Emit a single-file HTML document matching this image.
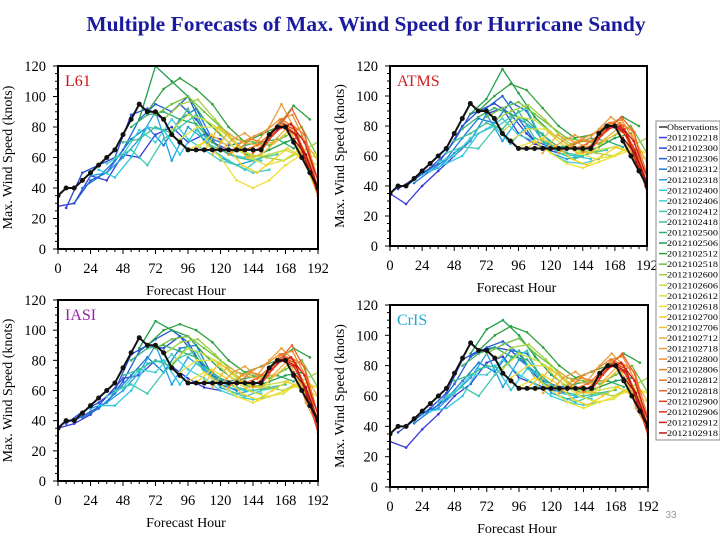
<!DOCTYPE html>
<html><head><meta charset="utf-8"><style>
body{margin:0;background:#fff;width:720px;height:540px;overflow:hidden}
svg{display:block;font-family:"Liberation Serif",serif}
</style></head><body>
<svg id="c" width="720" height="540">
<text x="366" y="31" text-anchor="middle" font-size="21.5" font-weight="bold" fill="#1a1aa0">Multiple Forecasts of Max. Wind Speed for Hurricane Sandy</text>
<text x="671" y="518" text-anchor="middle" font-size="10" fill="#999" font-family="Liberation Sans, sans-serif">33</text>
</svg>
<script>
const obsHours=[0,6,12,18,24,30,36,42,48,54,60,66,72,78,84,90,96,102,108,114,120,126,132,138,144,150,156,162,168,174,180,186,192];
const obsValues=[35,40,40,45,50,55,60,65,75,85,95,90,90,85,75,70,65,65,65,65,65,65,65,65,65,65,75,80,80,70,60,50,40];
const xTicks=[0,24,48,72,96,120,144,168,192];
const yTicks=[0,20,40,60,80,100,120];
const legendLabels=['2012102218','2012102300','2012102306','2012102312','2012102318','2012102400','2012102406','2012102412','2012102418','2012102500','2012102506','2012102512','2012102518','2012102600','2012102606','2012102612','2012102618','2012102700','2012102706','2012102712','2012102718','2012102800','2012102806','2012102812','2012102818','2012102900','2012102906','2012102912','2012102918'];
const seriesColors=['#3a3adc','#2a4ad0','#2060d0','#1a7ad8','#20a0e0','#30c8e0','#40d0d0','#40c8b0','#40c090','#30b070','#20a050','#30a040','#70c040','#a0d040','#c8e040','#e0e040','#f0e030','#f8d020','#f0c030','#e8b040','#e8a040','#f09030','#f08020','#f07020','#f06030','#e84020','#e03020','#d02020','#c01818','#a01010'];
// forecast values spread evenly from start hour 6*i to min(6*i+120,192)
const l61Values=[
[28,30,48,45,62,60,75,80,70,75,72],[27,50,55,60,88,92,85,95,85,70,65],[30,45,50,65,85,95,90,100,78,65,60],[40,47,58,72,80,68,85,92,72,68,70],
[48,50,60,72,90,58,80,72,60,55,58],[52,47,60,80,78,62,78,70,62,60,58],[56,62,78,70,85,72,65,58,55,50,52],[60,65,55,72,80,88,65,58,52,60,62],
[70,72,80,76,92,70,65,60,58,62,65],[80,88,90,85,82,70,62,68,70,72,66],[85,120,110,100,85,75,65,60,65,70,74],[90,105,112,105,95,80,70,75,80,94,85],
[88,95,100,90,80,72,70,68,74,80,60],[85,95,98,85,72,62,60,58,64,70],[78,88,85,78,68,60,62,65,60,55],[72,80,80,68,60,55,58,66,62],
[65,70,60,45,40,45,55,62,60],[65,75,68,55,50,58,66,60,35],[64,80,72,60,62,70,78,60,40],[62,76,70,68,70,80,72,58],
[64,72,76,70,80,95,80,55,38],[62,70,74,78,85,88,70,35],[64,72,70,80,82,75,45],[65,68,75,85,80,62,40],
[63,70,80,92,75,38],[64,75,82,78,58,35],[72,80,76,62,38],[78,82,70,45],[80,75,55,38],[72,62,40]];
const atmsValues=[
[35,28,40,50,60,70,88,92,75,68,65],[38,45,52,62,80,90,95,88,75,65,62],[40,48,55,70,88,92,100,85,70,66,62],[42,50,58,72,85,82,96,90,70,65,68],
[48,52,62,70,88,70,85,78,62,58,60],[50,55,60,75,80,68,80,75,62,60,58],[56,60,72,78,85,74,70,62,56,55,58],[62,66,65,78,86,92,70,62,58,62,64],
[70,75,82,78,90,72,68,62,60,64,66],[78,86,92,88,84,74,66,68,72,70,66],[88,98,118,102,86,76,68,62,66,72,75],[90,100,108,104,92,80,72,74,80,86,80],
[86,92,96,88,80,72,70,68,74,80,62],[84,90,94,84,72,64,62,60,66,72],[76,86,84,76,68,62,64,66,62,58],[70,78,78,68,62,58,60,66,62],
[66,70,62,55,52,56,60,64,62],[65,72,66,58,54,60,66,62,40],[64,76,70,62,62,70,76,62,42],[62,74,70,66,70,78,74,56],
[64,70,74,70,78,86,80,55,40],[62,68,72,76,82,84,70,38],[64,70,70,78,82,76,48],[65,68,74,82,80,64,42],
[63,70,78,86,76,40],[64,74,80,78,60,36],[72,80,76,64,40],[78,80,70,46],[80,76,56,40],[72,62,42]];
const iasiValues=[
[35,38,44,56,68,70,80,76,68,62,60],[38,46,52,60,84,90,88,96,82,70,64],[40,46,52,66,86,94,100,92,74,64,60],[42,48,58,70,82,72,88,90,70,66,68],
[48,52,60,72,90,64,82,74,62,58,60],[50,50,60,78,80,64,78,72,62,60,58],[56,62,74,72,84,74,68,60,56,54,56],[60,64,58,72,82,86,68,60,56,60,62],
[70,74,80,76,90,72,66,62,60,62,64],[80,88,90,86,82,72,64,68,70,70,66],[88,106,100,96,84,74,66,62,66,70,72],[90,100,104,100,92,80,72,76,80,88,82],
[88,94,96,88,80,72,70,68,74,80,62],[84,92,94,84,72,64,62,60,66,72],[78,88,84,78,68,62,64,66,62,56],[72,80,80,68,60,56,58,66,62],
[66,72,64,56,52,56,60,64,62],[65,74,68,58,54,60,66,60,38],[64,78,72,62,62,70,78,60,42],[62,76,70,68,70,80,72,56],
[64,72,76,70,80,88,80,52,36],[62,70,74,78,84,86,70,34],[64,72,70,80,82,76,44],[65,68,75,84,80,62,38],
[63,70,80,90,74,36],[64,74,82,78,58,32],[72,80,76,62,36],[78,82,70,44],[80,76,56,38],[72,62,40]];
const crisValues=[
[30,26,38,48,60,68,82,86,72,68,64],[36,44,52,62,84,90,92,90,80,68,64],[40,48,54,68,86,92,96,88,72,64,62],[42,50,58,70,82,76,90,88,70,66,68],
[48,52,62,72,88,66,84,76,62,58,60],[50,52,60,78,80,64,78,72,62,60,58],[56,62,74,74,84,74,68,60,56,54,56],[60,66,60,74,84,90,68,60,56,60,62],
[70,74,80,78,90,72,66,62,60,62,64],[80,88,92,86,84,72,64,68,70,70,66],[88,104,110,100,86,74,66,62,66,70,72],[90,100,106,102,92,80,72,76,80,88,82],
[88,94,98,88,80,72,70,68,74,80,62],[84,92,94,84,72,64,62,60,66,72],[78,88,84,78,68,62,64,66,62,56],[72,80,80,68,60,56,58,66,62],
[66,72,64,56,52,56,60,64,62],[65,74,68,58,54,60,66,60,40],[64,78,72,62,62,70,78,60,42],[62,76,70,68,70,80,72,56],
[64,72,76,70,80,88,80,52,38],[62,70,74,78,84,86,70,36],[64,72,70,80,82,76,46],[65,68,75,84,80,62,40],
[63,70,80,88,74,38],[64,74,82,78,58,34],[72,80,76,62,38],[78,82,70,44],[80,76,56,38],[72,62,40]];
const panels=[
{name:'l61',label:'L61',labelColor:'#cc1111',x0:58,x1:318,y0:66,y1:249,data:l61Values},
{name:'atms',label:'ATMS',labelColor:'#cc2222',x0:390,x1:647,y0:66,y1:246,data:atmsValues},
{name:'iasi',label:'IASI',labelColor:'#9922aa',x0:58,x1:318,y0:300,y1:481,data:iasiValues},
{name:'cris',label:'CrIS',labelColor:'#22aacc',x0:390,x1:648,y0:305,y1:487,data:crisValues}];
const NS='http://www.w3.org/2000/svg';
const svg=document.getElementById('c');
function mk(tag,attrs,parent){const e=document.createElementNS(NS,tag);for(const k in attrs)e.setAttribute(k,attrs[k]);(parent||svg).appendChild(e);return e;}
panels.forEach(p=>{
  const g=mk('g',{});
  
  
  const sx=h=>p.x0+(p.x1-p.x0)*h/192;
  const sy=v=>p.y1-(p.y1-p.y0)*v/120;
  const clip=mk('clipPath',{id:'cl'+p.name},g);
  mk('rect',{x:p.x0,y:p.y0,width:p.x1-p.x0,height:p.y1-p.y0},clip);
  const plot=mk('g',{'clip-path':'url(#cl'+p.name+')'},g);
  p.data.forEach((vals,i)=>{
    const s=6*i;const e=Math.min(s+120,192);const step=(e-s)/(vals.length-1);
    const pts=vals.map((v,k)=>[sx(s+step*k),sy(v)]);
    const pl=mk('polyline',{points:pts.map(q=>q.join(',')).join(' '),fill:'none',stroke:seriesColors[i],'stroke-width':1.3},plot);
    
    
    pts.forEach(q=>mk('circle',{cx:q[0],cy:q[1],r:1.3,fill:seriesColors[i]},plot));
  });
  const op=obsHours.map((h,k)=>sx(h)+','+sy(obsValues[k])).join(' ');
  const ol=mk('polyline',{points:op,fill:'none',stroke:'#111','stroke-width':2},plot);
  
  
  obsHours.forEach((h,k)=>mk('circle',{cx:sx(h),cy:sy(obsValues[k]),r:2.5,fill:'#111'},plot));
  mk('rect',{x:p.x0,y:p.y0,width:p.x1-p.x0,height:p.y1-p.y0,fill:'none',stroke:'#000','stroke-width':2},g);
  for(let h=0;h<=192;h+=6){const big=h%24==0;mk('line',{x1:sx(h),x2:sx(h),y1:p.y1,y2:p.y1+(big?5:3),stroke:'#000','stroke-width':1},g);}
  for(let v=0;v<=120;v+=5){const big=v%20==0;mk('line',{x1:p.x0,x2:p.x0-(big?5:3),y1:sy(v),y2:sy(v),stroke:'#000','stroke-width':1},g);}
  xTicks.forEach(h=>{const t=mk('text',{x:sx(h),y:p.y1+24,'text-anchor':'middle','font-size':14.5},g);t.textContent=h;
    });
  yTicks.forEach(v=>{const t=mk('text',{x:p.x0-12,y:sy(v)+5,'text-anchor':'end','font-size':14.5},g);t.textContent=v;
    });
  const xt=mk('text',{x:(p.x0+p.x1)/2-2,y:p.y1+46,'text-anchor':'middle','font-size':14},g);xt.textContent='Forecast Hour';
  
  const cy=(p.y0+p.y1)/2;
  const yt=mk('text',{x:p.x0-46,y:cy,'text-anchor':'middle','font-size':14,transform:'rotate(-90 '+(p.x0-46)+' '+cy+')'},g);yt.textContent='Max. Wind Speed (knots)';
  
  const lb=mk('text',{x:p.x0+7,y:p.y0+20,'font-size':16,fill:p.labelColor},g);lb.textContent=p.label;
  
});
const lg=mk('g',{});


mk('rect',{x:656,y:121,width:64,height:319,fill:'#fff',stroke:'#888','stroke-width':1},lg);
const entries=['Observations'].concat(legendLabels);
const cols=['#333'].concat(seriesColors);
entries.forEach((lab,i)=>{
  const y=127+i*10.55;
  const e=mk('g',{},lg);
  
  
  mk('line',{x1:659,x2:667,y1:y,y2:y,stroke:cols[i],'stroke-width':1.5},e);
  const t=mk('text',{x:667,y:y+3,'font-size':8.5,textLength:51,lengthAdjust:'spacingAndGlyphs'},e);t.textContent=lab;
});
</script>
</body></html>
